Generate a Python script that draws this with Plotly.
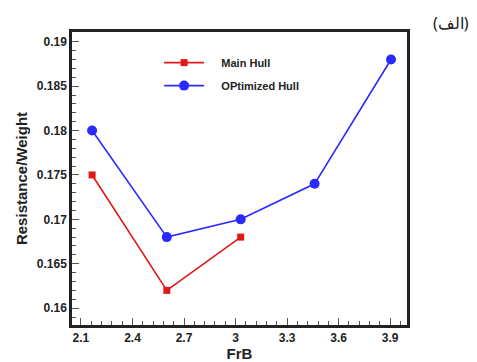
import plotly.graph_objects as go

main_x = [2.165, 2.60, 3.03]
main_y = [0.175, 0.162, 0.168]
opt_x = [2.165, 2.60, 3.03, 3.46, 3.905]
opt_y = [0.180, 0.168, 0.170, 0.174, 0.188]

x_ticks = [2.1, 2.4, 2.7, 3.0, 3.3, 3.6, 3.9]
x_labels = ["2.1", "2.4", "2.7", "3", "3.3", "3.6", "3.9"]
y_ticks = [0.16, 0.165, 0.17, 0.175, 0.18, 0.185, 0.19]
y_labels = ["0.16", "0.165", "0.17", "0.175", "0.18", "0.185", "0.19"]

label_text = "\u200e(الف)\u200e"

fig = go.Figure()
fig.add_trace(go.Scatter(x=main_x, y=main_y, mode="lines+markers", name="&nbsp;&nbsp;&nbsp;&nbsp;Main Hull",
                         legendgroup="a",
                         line=dict(color="#e01818", width=1.6),
                         marker=dict(symbol="square", size=7, color="#e01818")))
fig.add_trace(go.Scatter(x=opt_x, y=opt_y, mode="lines+markers", name="&nbsp;&nbsp;&nbsp;&nbsp;OPtimized Hull",
                         legendgroup="b",
                         line=dict(color="#2a2aff", width=1.6),
                         marker=dict(symbol="circle", size=10, color="#2a2aff")))

fig.update_layout(
    width=477, height=362,
    margin=dict(l=61, r=78, t=24, b=31),
    paper_bgcolor="white", plot_bgcolor="white",
    font=dict(family="Liberation Sans", color="#222"),
    showlegend=True,
    legend=dict(x=0.26, y=0.945, xanchor="left", yanchor="top",
                bgcolor="rgba(0,0,0,0)", font=dict(size=11, family="Liberation Sans", weight="bold"),
                tracegroupgap=4, itemwidth=40),
    xaxis=dict(range=[2.048, 3.998], tickvals=x_ticks, ticktext=x_labels,
               ticks="inside", ticklen=7, tickwidth=1, tickcolor="#555",
               minor=dict(ticks="inside", ticklen=4, dtick=0.06, tick0=2.1, tickcolor="#555"),
               showgrid=False, zeroline=False, showline=True, linecolor="#222", linewidth=2.5,
               mirror=True, tickfont=dict(size=12, weight="bold"),
               title=dict(text="<b>FrB</b>", font=dict(size=15), standoff=2)),
    yaxis=dict(range=[0.1581, 0.1911], tickvals=y_ticks, ticktext=y_labels,
               ticks="inside", ticklen=7, tickwidth=1, tickcolor="#555",
               minor=dict(ticks="inside", ticklen=4, dtick=0.001, tick0=0.16, tickcolor="#555"),
               showgrid=False, zeroline=False, showline=True, linecolor="#222", linewidth=2.5,
               mirror=True, tickfont=dict(size=12, weight="bold"),
               title=dict(text="<b>Resistance/Weight</b>", font=dict(size=15), standoff=6)),
    annotations=[dict(text=label_text, xref="paper", yref="paper", x=1.19, y=1.03,
                      xanchor="right", yanchor="middle", showarrow=False,
                      font=dict(family="Noto Sans", size=16, color="#222"))],
)
fig.write_html("out.html")
